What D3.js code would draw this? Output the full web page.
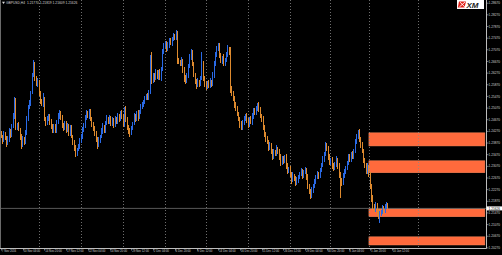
<!DOCTYPE html>
<html><head><meta charset="utf-8">
<script src="https://cdn.jsdelivr.net/npm/d3@7"></script>
<style>html,body{margin:0;padding:0;background:#000;overflow:hidden}svg{display:block}</style>
</head><body>
<script>
// ---------- data ----------
const headerText = "GBPUSD,H4  1.21770 1.21819 1.21609 1.21626";
const currentPrice = 1.21626;
const firstOpen = 12420; // pips (price * 10000)
const closes = [
12410,12395,12420,12405,12385,12400,12430,12415,12445,12480,
12500,12440,12450,12435,12410,12380,12400,12390,12420,12470,
12510,12525,12560,12620,12660,12610,12590,12600,12560,12530,
12520,12540,12470,12455,12470,12480,12460,12440,12430,12445,
12430,12460,12480,12490,12475,12450,12440,12455,12430,12445,
12420,12440,12410,12390,12370,12350,12365,12375,12395,12410,
12430,12450,12475,12490,12480,12495,12470,12450,12440,12420,
12400,12380,12395,12410,12430,12445,12430,12455,12470,12460,
12475,12455,12465,12450,12470,12460,12480,12470,12490,12480,
12450,12500,12470,12440,12430,12420,12440,12455,12480,12470,
12490,12475,12495,12510,12520,12530,12540,12550,12545,12560,
12650,12600,12620,12610,12630,12615,12630,12610,12640,12700,
12720,12730,12710,12725,12740,12730,12745,12755,12750,12765,
12670,12665,12660,12670,12640,12610,12600,12620,12650,12680,
12700,12660,12620,12600,12585,12600,12590,12610,12660,12610,
12590,12580,12595,12585,12600,12590,12620,12660,12690,12710,
12720,12690,12670,12680,12660,12670,12690,12710,12700,12575,
12560,12540,12520,12505,12490,12470,12450,12440,12460,12470,
12480,12465,12450,12470,12460,12480,12500,12490,12505,12520,
12505,12480,12470,12440,12420,12400,12390,12370,12380,12360,
12340,12355,12350,12370,12360,12340,12320,12335,12325,12340,
12310,12290,12300,12280,12260,12275,12265,12250,12260,12270,
12280,12290,12275,12285,12295,12270,12240,12220,12205,12225,
12240,12255,12270,12280,12275,12295,12310,12330,12350,12380,
12370,12340,12320,12330,12310,12300,12315,12330,12310,12280,
12260,12250,12275,12290,12300,12320,12340,12330,12350,12340,
12360,12390,12410,12425,12400,12380,12360,12330,12310,12290,
12305,12280,12240,12200,12170,12160,12175,12150,12135,12145,
12150,12165,12155,12170,12177,12162.6
];
const upperWicks = [
8,6,10,5,7,12,9,6,8,11,
45,40,7,9,5,8,10,6,12,9,
8,10,7,9,12,6,8,11,5,7,
9,20,6,8,10,7,5,9,11,6,
8,7,10,12,6,9,5,8,7,10,
6,9,8,5,7,10,6,8,9,7,
11,6,8,12,7,9,10,5,8,6,
9,7,11,6,8,10,5,9,12,7,
8,6,10,7,9,5,11,8,6,9,
7,10,15,6,8,9,7,5,10,8,
6,9,7,11,8,6,10,7,9,8,
40,50,9,7,10,6,8,12,7,11,
9,8,6,10,7,9,5,8,6,10,
5,9,7,11,6,8,10,7,9,12,
10,8,6,9,7,11,5,8,40,9,
7,10,6,8,9,5,11,7,8,10,
10,9,7,6,11,8,10,15,7,15,
8,6,9,7,10,5,8,11,6,9,
7,10,8,6,9,11,7,8,10,6,
9,7,5,10,8,6,11,7,9,8,
6,10,7,9,5,8,11,6,9,7,
10,8,6,9,7,11,5,8,10,6,
9,12,7,8,10,6,9,7,8,11,
6,9,7,10,8,5,9,11,7,10,
8,6,9,7,10,8,6,11,7,9,
8,6,10,7,9,5,8,11,6,9,
7,10,8,7,9,6,11,8,7,10,
12,6,9,8,10,7,11,6,9,8,
7,10,6,9,8,4.9
];
const lowerWicks = [
7,10,6,9,12,5,8,11,7,6,
10,8,9,6,11,14,7,10,8,6,
9,7,10,6,8,11,7,9,12,8,
6,10,8,11,7,9,12,6,8,10,
7,9,6,11,8,10,12,7,9,6,
10,8,7,11,9,12,8,6,10,7,
9,6,11,8,7,10,6,9,12,8,
10,14,7,9,6,11,8,10,7,9,
6,10,8,11,7,9,6,10,8,12,
9,7,10,8,11,12,7,9,6,10,
8,11,7,9,6,10,8,7,11,9,
6,10,8,12,7,9,11,8,10,6,
9,7,10,8,11,6,9,7,10,8,
10,7,9,8,11,12,10,6,9,7,
8,10,7,11,12,6,9,8,5,10,
9,11,7,10,8,12,6,9,7,8,
6,10,8,11,9,7,6,8,10,15,
11,9,12,8,10,9,11,8,7,10,
6,9,11,8,7,10,9,6,8,7,
10,8,11,9,12,10,7,11,8,9,
10,7,9,8,11,10,12,7,9,8,
11,10,7,9,12,8,10,11,7,9,
8,7,10,9,6,11,12,9,10,8,
9,7,10,8,11,7,9,6,8,7,
9,11,10,8,12,9,7,10,11,12,
60,10,8,7,9,6,10,8,9,7,
8,6,7,9,10,11,8,12,9,11,
8,10,12,14,11,10,9,12,10,23,
9,8,10,7,9,1.7
];
const timeLabels = ["7 Nov 2016","10 Nov 04:00","14 Nov 20:00","17 Nov 12:00","22 Nov 04:00","24 Nov 20:00","29 Nov 12:00","2 Dec 04:00","6 Dec 20:00","9 Dec 12:00","14 Dec 04:00","16 Dec 20:00","21 Dec 12:00","26 Dec 12:00","29 Dec 04:00","30 Dec 20:00","3 Jan 04:00","5 Jan 20:00","10 Jan 12:00"];
const timeLabelBars = [0,16,32,48,64,80,96,112,128,144,160,176,192,208,224,240,256,272,288];
const gridBars = [28,59,90,121,151,182,213,242,271,307];
const priceTicks = [1.20270,1.20670,1.21070,1.21470,1.21870,1.22270,1.22670,1.23070,1.23470,1.23870,1.24270,1.24670,1.25070,1.25470,1.25870,1.26270,1.26670,1.27070,1.27470,1.27870,1.28270,1.28670];
const bandLows  = [1.2377, 1.2285, 1.2134, 1.2037];
const bandHighs = [1.2422, 1.2326, 1.2161, 1.2065];
const bandStartBar = 271, bandEndBar = 356.4;

// ---------- layout ----------
const W = 502, H = 255, plotR = 486, plotB = 248;
const BLUE = "#2a6ae6", ORANGE = "#de8a2e", BAND = "#ff6a3c";
const FONT = "'Liberation Sans', Arial, sans-serif";

const x = d3.scaleLinear().domain([0, 288]).range([1, 392]);
const y = d3.scaleLinear().domain([1.20270, 1.28670]).range([247.9, 3.2]);

const svg = d3.select("body").append("svg").attr("width", W).attr("height", H);
svg.append("rect").attr("width", W).attr("height", H).attr("fill", "#000");

// bands
svg.append("g").selectAll("rect").data(bandLows.map((l, i) => ({l, h: bandHighs[i]}))).join("rect")
  .attr("x", x(bandStartBar)).attr("width", x(bandEndBar) - x(bandStartBar))
  .attr("y", d => y(d.h)).attr("height", d => y(d.l) - y(d.h))
  .attr("fill", BAND).attr("stroke", "#ff8a5c").attr("stroke-width", 0.5);

// vertical grid
svg.append("g").selectAll("line").data(gridBars).join("line")
  .attr("x1", d => Math.round(x(d)) + 0.5).attr("x2", d => Math.round(x(d)) + 0.5)
  .attr("y1", 0).attr("y2", plotB)
  .attr("stroke", "#8a8a8a").attr("stroke-width", 0.8).attr("stroke-dasharray", "1,2");

// bid line
svg.append("line").attr("x1", 0).attr("x2", plotR).attr("y1", y(currentPrice)).attr("y2", y(currentPrice))
  .attr("stroke", "#6e6e6e").attr("stroke-width", 0.8);

// candles
const bars = closes.map((c, i) => {
  const o = i === 0 ? firstOpen : closes[i - 1];
  return {i, o, c, h: Math.max(o, c) + upperWicks[i], l: Math.min(o, c) - lowerWicks[i]};
});
svg.append("g").attr("shape-rendering", "crispEdges").selectAll("rect").data(bars).join("rect")
  .attr("x", d => Math.floor(x(d.i))).attr("width", 1)
  .attr("y", d => y(d.h / 1e4)).attr("height", d => Math.max(1, y(d.l / 1e4) - y(d.h / 1e4)))
  .attr("fill", d => d.c >= d.o ? BLUE : ORANGE);

// frame / axes
svg.append("line").attr("x1", plotR + 0.5).attr("x2", plotR + 0.5).attr("y1", 0).attr("y2", plotB + 0.5).attr("stroke", "#bdbdbd").attr("stroke-width", 1);
svg.append("line").attr("x1", 0).attr("x2", plotR + 0.5).attr("y1", plotB + 0.5).attr("y2", plotB + 0.5).attr("stroke", "#bdbdbd").attr("stroke-width", 1);
svg.append("line").attr("x1", 0.5).attr("x2", 0.5).attr("y1", 0).attr("y2", plotB).attr("stroke", "#6a6a6a").attr("stroke-width", 1);

// y ticks
const yt = svg.append("g");
yt.selectAll("line").data(priceTicks).join("line")
  .attr("x1", plotR + 0.5).attr("x2", plotR + 2.5).attr("y1", d => y(d)).attr("y2", d => y(d))
  .attr("stroke", "#bdbdbd").attr("stroke-width", 0.6);
yt.selectAll("text").data(priceTicks).join("text")
  .attr("x", plotR + 2.5).attr("y", d => y(d)).attr("dy", "0.35em")
  .attr("font-family", FONT).attr("font-size", 3.2).attr("fill", "#cfcfcf")
  .text(d => d.toFixed(5));

// current price box
svg.append("rect").attr("x", plotR + 0.5).attr("y", y(currentPrice) - 2).attr("width", 15.5).attr("height", 4).attr("fill", "#fff");
svg.append("text").attr("x", plotR + 2.5).attr("y", y(currentPrice)).attr("dy", "0.35em")
  .attr("font-family", FONT).attr("font-size", 3.2).attr("fill", "#000").text(currentPrice.toFixed(5));

// x ticks
const xt = svg.append("g");
xt.selectAll("line").data(timeLabelBars).join("line")
  .attr("x1", d => Math.round(x(d)) + 0.5).attr("x2", d => Math.round(x(d)) + 0.5)
  .attr("y1", plotB + 0.5).attr("y2", plotB + 2.5).attr("stroke", "#bdbdbd").attr("stroke-width", 0.6);
xt.selectAll("text").data(timeLabelBars).join("text")
  .attr("x", d => x(d) + 0.8).attr("y", 252.3)
  .attr("font-family", FONT).attr("font-size", 2.8).attr("fill", "#cfcfcf")
  .text((d, i) => timeLabels[i]);

// header
svg.append("path").attr("d", "M2,1.8 L5,1.8 L3.5,4 Z").attr("fill", "#dcdcdc");
svg.append("text").attr("x", 6).attr("y", 3.9)
  .attr("font-family", FONT).attr("font-size", 3.3).attr("fill", "#d4d4d4")
  .attr("xml:space", "preserve").text(headerText);

// XM logo
const logo = svg.append("g");
logo.append("rect").attr("x", 457).attr("y", 0).attr("width", 27).attr("height", 9).attr("fill", "#fff");
logo.append("path").attr("d", "M459,1.5 L466,1.5 L464.5,7.5 L457.8,7.5 Z").attr("fill", "#e2231a");
logo.append("path").attr("d", "M460,2.2 L464.8,6.9 M464.9,2.2 L459.4,6.9").attr("stroke", "#fff").attr("stroke-width", 0.9);
logo.append("text").attr("x", 466.5).attr("y", 7.6)
  .attr("font-family", FONT).attr("font-size", 8).attr("font-weight", "bold").attr("font-style", "italic")
  .attr("fill", "#1a1a1a").text("XM");
</script>
</body></html>
